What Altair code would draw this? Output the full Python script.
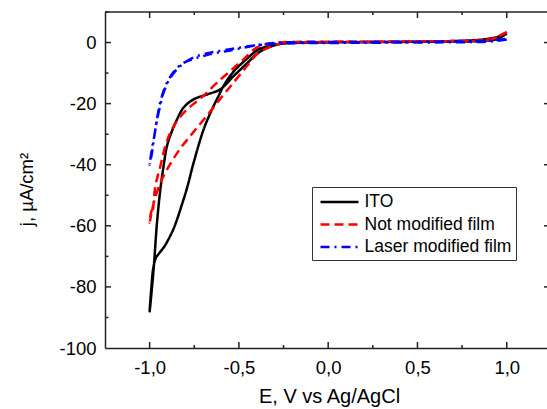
import altair as alt
import pandas as pd

# ---------------- data ----------------
series_names = ["ITO", "Not modified film", "Laser modified film"]

ito_E = [1.0, 0.95, 0.9, 0.8, 0.6, 0.4, 0.2, 0.0, -0.2, -0.25, -0.3, -0.35, -0.39,
         -0.455, -0.53, -0.586, -0.614, -0.651, -0.698, -0.754, -0.79, -0.83,
         -0.85, -0.87, -0.9, -0.92, -0.94, -0.965, -0.98, -0.99, -1.0,
         -0.978, -0.959, -0.94, -0.922, -0.903, -0.875, -0.847, -0.81, -0.754,
         -0.679, -0.604, -0.53, -0.455, -0.39, -0.33, -0.28, -0.22, -0.1, 0.1,
         0.3, 0.5, 0.7, 0.85, 0.92, 0.97, 1.0]
ito_j = [3.0, 1.2, 0.7, 0.4, 0.3, 0.2, 0.1, 0.05, -0.1, -0.3, -0.8, -1.5, -2.2,
         -5.3, -9.5, -14.2, -17.5, -21.9, -28.5, -39.4, -47.5, -55.0,
         -58.5, -61.5, -65.0, -67.0, -68.5, -70.5, -74.0, -80.0, -88.0,
         -74.4, -59.1, -48.1, -40.5, -33.9, -29.0, -25.2, -21.3, -18.6,
         -17.0, -15.3, -11.0, -6.8, -3.3, -1.5, -0.6, -0.2, 0.0, 0.1,
         0.2, 0.3, 0.5, 0.9, 1.5, 2.2, 3.0]

nm_E = [1.0, 0.95, 0.9, 0.8, 0.5, 0.2, 0.0, -0.2, -0.28, -0.33, -0.39, -0.455,
        -0.53, -0.595, -0.673, -0.757, -0.832, -0.903, -0.94, -0.975, -1.0,
        -0.99, -0.985, -0.968, -0.94, -0.912, -0.884, -0.847, -0.791, -0.735,
        -0.679, -0.623, -0.548, -0.474, -0.399, -0.34, -0.28, -0.2, 0.0, 0.3,
        0.6, 0.8, 0.9, 0.95, 1.0]
nm_j = [3.5, 2.0, 1.0, 0.5, 0.4, 0.3, 0.2, 0.0, -0.5, -1.5, -3.3, -7.7,
        -13.1, -17.7, -23.5, -29.5, -35.0, -41.6, -46.0, -52.0, -59.0,
        -55.0, -56.0, -47.0, -40.5, -33.9, -29.5, -25.7, -21.9, -19.2,
        -16.4, -13.1, -9.3, -5.5, -1.6, -0.5, 0.0, 0.2, 0.3, 0.3,
        0.4, 0.6, 1.0, 1.8, 3.5]

lm_E = [1.0, 0.95, 0.9, 0.7, 0.4, 0.1, -0.2, -0.3, -0.36, -0.436, -0.548, -0.66,
        -0.754, -0.828, -0.884, -0.922, -0.95, -0.968, -0.987, -1.0,
        -0.985, -0.975, -0.96, -0.94, -0.91, -0.87, -0.82, -0.75, -0.66, -0.55,
        -0.44, -0.36, -0.3, -0.2, 0.1, 0.4, 0.7, 0.9, 0.95, 1.0]
lm_j = [1.0, 0.6, 0.3, 0.1, 0.0, -0.1, -0.2, -0.4, -0.7, -1.1, -2.2, -3.3,
        -4.9, -7.7, -11.5, -16.4, -23.0, -28.5, -36.1, -40.0,
        -34.0, -31.0, -25.5, -19.5, -14.0, -10.0, -7.0, -5.3, -3.8, -2.6,
        -1.3, -0.5, -0.1, 0.1, 0.2, 0.2, 0.3, 0.6, 0.9, 1.2]

x_major_ticks = [-1.0, -0.5, 0.0, 0.5, 1.0]
x_minor_ticks = [-0.75, -0.25, 0.25, 0.75]
y_major_ticks = [0, -20, -40, -60, -80]
y_minor_ticks = [10, -10, -30, -50, -70, -90]
y_label_ticks = [0, -20, -40, -60, -80, -100]

x_title = "E, V vs Ag/AgCl"
y_title = "j, µA/cm²"

# ---------------- build table ----------------
rows = []
for name, E, J in [(series_names[0], ito_E, ito_j),
                   (series_names[1], nm_E, nm_j),
                   (series_names[2], lm_E, lm_j)]:
    for i, (e, j) in enumerate(zip(E, J)):
        rows.append({"series": name, "E": e, "j": j, "i": i})
df = pd.DataFrame(rows)

W, H = 442, 336
FONT = "Liberation Sans"
AX = "#222222"

xs = alt.Scale(domain=[-1.25, 1.2255], nice=False, zero=False)
ys = alt.Scale(domain=[-100, 10], nice=False, zero=False)

x_axis = alt.Axis(
    title=x_title, values=x_major_ticks, grid=False, ticks=False, tickSize=0,
    domain=True, domainColor=AX, domainWidth=1.5,
    labelExpr="(datum.value < 0 ? '-' : '') + replace(format(abs(datum.value), '.1f'), '.', ',')",
    labelFont=FONT, labelFontSize=18.5, labelColor="black",
    labelBaseline="alphabetic", labelPadding=25,
    titleFont=FONT, titleFontSize=20, titleFontWeight="normal", titleColor="black",
    titleX=224, titleY=54, titleAlign="center", titleBaseline="alphabetic",
)
y_axis = alt.Axis(
    title=y_title, values=y_label_ticks, grid=False, ticks=False, tickSize=0,
    domain=True, domainColor=AX, domainWidth=1.5,
    labelExpr="datum.value + ''",
    labelFont=FONT, labelFontSize=18.5, labelColor="black",
    labelBaseline="middle", labelAlign="right", labelPadding=9,
    titleFont=FONT, titleFontSize=18.5, titleFontWeight="normal", titleColor="black",
    titleX=-73, titleY=177, titleAngle=270, titleAlign="center",
    titleBaseline="alphabetic",
)

# custom horizontal-line symbol: 38 px long with size 361 (scale = sqrt(size)/2)
legend = alt.Legend(
    title=None, orient="none", legendX=207, legendY=175,
    strokeColor="#333333", fillColor="white", padding=4,
    symbolType="M-2,0H2", symbolSize=361, symbolStrokeWidth=2.5,
    symbolOffset=12.5,
    labelFont=FONT, labelFontSize=17.5, labelColor="black", labelOffset=14,
    rowPadding=2.5,
)

curves = alt.Chart(df).mark_line(strokeWidth=2.5, interpolate="catmull-rom").encode(
    x=alt.X("E:Q", scale=xs, axis=x_axis),
    y=alt.Y("j:Q", scale=ys, axis=y_axis),
    color=alt.Color("series:N", sort=series_names,
                    scale=alt.Scale(domain=series_names,
                                    range=["black", "#ff0000", "#0000ff"]),
                    legend=legend),
    strokeDash=alt.StrokeDash("series:N", sort=series_names,
                              scale=alt.Scale(domain=series_names,
                                              range=[[1, 0], [9, 5], [9, 5, 2, 5]]),
                              legend=legend),
    order="i:Q",
)

def tick_layer(values, orient, length):
    d = pd.DataFrame({"E": values}) if orient in ("bottom", "top") else pd.DataFrame({"j": values})
    base = alt.Chart(d).mark_rule(color=AX, strokeWidth=1.5)
    if orient == "bottom":
        return base.encode(x=alt.X("E:Q", scale=xs, axis=x_axis),
                           y=alt.value(H), y2=alt.value(H - length))
    if orient == "top":
        return base.encode(x=alt.X("E:Q", scale=xs, axis=x_axis),
                           y=alt.value(0), y2=alt.value(length))
    if orient == "left":
        return base.encode(y=alt.Y("j:Q", scale=ys, axis=y_axis),
                           x=alt.value(0), x2=alt.value(length))
    return base.encode(y=alt.Y("j:Q", scale=ys, axis=y_axis),
                       x=alt.value(W - length), x2=alt.value(W))

top_line = alt.Chart(pd.DataFrame({"a": [0]})).mark_rule(color=AX, strokeWidth=1.5).encode(
    x=alt.value(0), x2=alt.value(W), y=alt.value(0))

chart = alt.layer(
    top_line,
    tick_layer(x_major_ticks, "bottom", 6),
    tick_layer(x_minor_ticks, "bottom", 3),
    tick_layer(x_major_ticks, "top", 6),
    tick_layer(x_minor_ticks, "top", 3),
    tick_layer(y_major_ticks, "left", 6),
    tick_layer(y_minor_ticks, "left", 3.5),
    tick_layer(y_major_ticks, "right", 3),
    curves,
).properties(
    width=W, height=H,
    autosize=alt.AutoSizeParams(type="none"),
    padding={"left": 105, "top": 12, "right": 0, "bottom": 61},
).configure(background="white").configure_view(stroke=None)

chart.save("out.html", embed_options={"renderer": "svg", "actions": False})
